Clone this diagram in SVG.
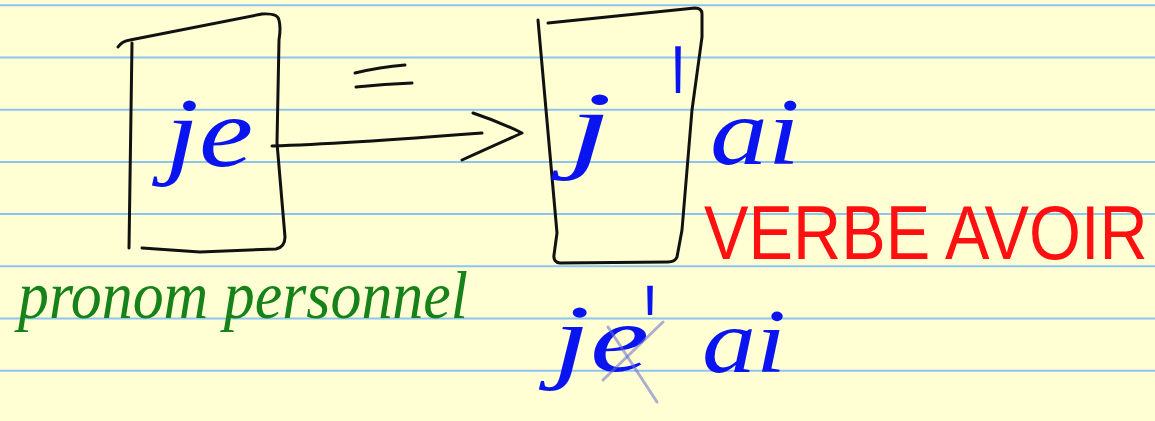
<svg xmlns="http://www.w3.org/2000/svg" width="1155" height="421" viewBox="0 0 1155 421">
  <defs>
    <style>
      .rule { stroke: #8ec4f2; stroke-width: 2; }
      .ink { fill: none; stroke: #111; stroke-width: 3; stroke-linecap: round; stroke-linejoin: round; }
      .hand { font-family: "Liberation Serif", "DejaVu Serif", serif; font-style: italic; }
      .blue { fill: #0a14f0; }
      .green { fill: #17821a; }
      .red { fill: #ff1010; font-family: "Liberation Sans", "DejaVu Sans", sans-serif; }
      .apos { fill: #0a14f0; font-family: "Liberation Sans", "DejaVu Sans", sans-serif; }
      .strike { stroke: #6a6ad0; stroke-opacity: 0.55; stroke-width: 3; stroke-linecap: round; }
    </style>
  </defs>
  <rect width="1155" height="421" fill="#ffffd3"/>
  <g id="paper-lines">
    <line class="rule" x1="0" y1="5.3" x2="1155" y2="5.3"/>
    <line class="rule" x1="0" y1="57.5" x2="1155" y2="57.5"/>
    <line class="rule" x1="0" y1="109.7" x2="1155" y2="109.7"/>
    <line class="rule" x1="0" y1="161.9" x2="1155" y2="161.9"/>
    <line class="rule" x1="0" y1="214.1" x2="1155" y2="214.1"/>
    <line class="rule" x1="0" y1="266.3" x2="1155" y2="266.3"/>
    <line class="rule" x1="0" y1="318.5" x2="1155" y2="318.5"/>
    <line class="rule" x1="0" y1="370.7" x2="1155" y2="370.7"/>
  </g>

  <g id="node-je">
    <path class="ink" d="M118,47 Q122,41 130,40 L262,14 Q278,13 279,20 Q281,28 279,40 L277,143 L285,237 Q285,247 276,249 L200,252 L142,248"/>
    <path class="ink" d="M132,43 L129,248"/>
    <text class="hand blue" x="165" y="166" font-size="100" textLength="88" lengthAdjust="spacingAndGlyphs">je</text>
  </g>

  <g id="equals">
    <path class="ink" d="M355,73 Q380,67 405,65"/>
    <path class="ink" d="M356,87 Q385,84 412,83"/>
  </g>

  <g id="connectors">
    <path class="ink" d="M272,146 Q340,144 482,133"/>
    <path class="ink" d="M473,113 Q500,122 522,133 Q495,145 462,160"/>
  </g>

  <g id="node-j">
    <path class="ink" d="M548,23 L695,8 Q702,8 702,14 L702,37 L692,110 L682,230 L677,257 Q675,262 668,262 L560,263 Q553,262 554,255 L557,233 L538,20"/>
    <text class="hand blue" x="568" y="160" font-size="100" textLength="44" lengthAdjust="spacingAndGlyphs">j</text>
  </g>

  <g id="label-ai">
    <text class="apos" font-size="90" transform="translate(672,195) scale(0.7,2.4)">'</text>
    <text class="hand blue" x="710" y="164" font-size="95" textLength="90" lengthAdjust="spacingAndGlyphs">ai</text>
  </g>

  <g id="label-verbe-avoir">
    <text class="red" font-size="76" transform="translate(704,259) scale(0.878,1)">VERBE AVOIR</text>
  </g>

  <g id="label-pronom">
    <text class="hand green" x="18" y="318" font-size="68" textLength="450" lengthAdjust="spacingAndGlyphs">pronom personnel</text>
  </g>

  <g id="label-je-ai">
    <text class="hand blue" x="553" y="371" font-size="95" textLength="96" lengthAdjust="spacingAndGlyphs">je</text>
    <text class="apos" font-size="90" transform="translate(644,379) scale(0.7,1.5)">'</text>
    <line class="strike" x1="608" y1="327" x2="657" y2="402"/>
    <line class="strike" x1="663" y1="322" x2="603" y2="380"/>
    <text class="hand blue" x="702" y="372" font-size="90" textLength="84" lengthAdjust="spacingAndGlyphs">ai</text>
  </g>
</svg>
